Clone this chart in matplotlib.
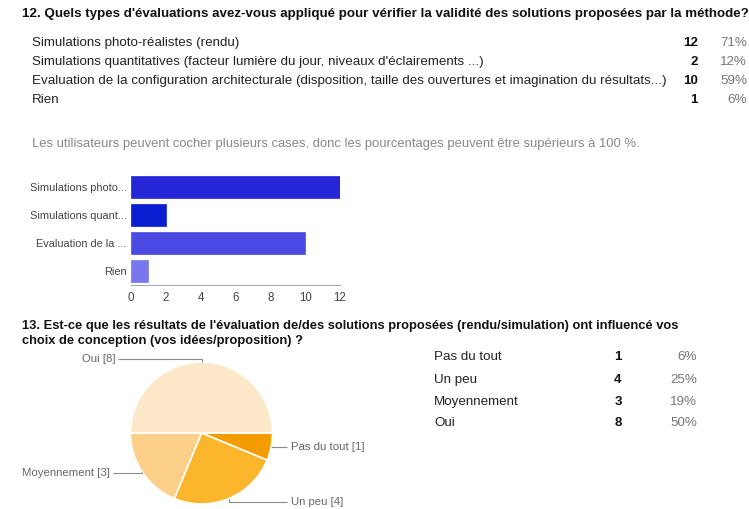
import matplotlib
matplotlib.use("Agg")
from matplotlib import pyplot as plt
import numpy as np

plt.rcParams['font.family'] = ['Liberation Sans', 'DejaVu Sans']

W, H = 749, 509

# question 12 : types d'evaluations
q12_title = ("12. Quels types d'évaluations avez-vous appliqué pour vérifier "
             "la validité des solutions proposées par la méthode?")
q12_options = ["Simulations photo-réalistes (rendu)",
               "Simulations quantitatives (facteur lumière du jour, niveaux d'éclairements ...)",
               "Evaluation de la configuration architecturale (disposition, taille des "
               "ouvertures et imagination du résultats...)",
               "Rien"]
q12_short = ["Simulations photo...", "Simulations quant...", "Evaluation de la ...", "Rien"]
q12_counts = [12, 2, 10, 1]
q12_pct = ["71%", "12%", "59%", "6%"]
q12_note = ("Les utilisateurs peuvent cocher plusieurs cases, donc les pourcentages "
            "peuvent être supérieurs à 100 %.")
bar_colors = ["#2626d9", "#0b1fd2", "#4b4be4", "#7878ec"]
x_ticks = [0, 2, 4, 6, 8, 10, 12]

# question 13 : influence sur la conception
q13_title = ["13. Est-ce que les résultats de l'évaluation de/des solutions proposées "
             "(rendu/simulation) ont influencé vos",
             "choix de conception (vos idées/proposition) ?"]
q13_labels = ["Pas du tout", "Un peu", "Moyennement", "Oui"]
q13_counts = [1, 4, 3, 8]
q13_pct = ["6%", "25%", "19%", "50%"]
pie_colors = ["#f59c00", "#fbb62c", "#fdd089", "#fde9ca"]

FS = 9.6      # body text
FS_AX = 7.9   # bar chart tick labels
FS_PIE = 8.2  # pie labels


def fx(x):
    return x / W


def fy(y):
    return 1 - y / H


fig = plt.figure(figsize=(W / 100, H / 100), dpi=100)
fig.patch.set_facecolor("white")

# overlay in pixel units for the pie and its leader lines
ov = fig.add_axes([0, 0, 1, 1])
ov.set_xlim(0, W)
ov.set_ylim(0, H)
ov.axis("off")

# ---- question 12 text block
fig.text(fx(22), fy(14), q12_title, fontsize=FS, fontweight="bold",
         color="#111111", va="center")
row_y = [43, 62, 81, 100]
for lab, c, p, y in zip(q12_options, q12_counts, q12_pct, row_y):
    fig.text(fx(32), fy(y), lab, fontsize=FS, color="#222222", va="center")
    fig.text(fx(698), fy(y), str(c), fontsize=FS, fontweight="bold",
             color="#111111", va="center", ha="right")
    fig.text(fx(747), fy(y), p, fontsize=FS, color="#777777", va="center", ha="right")
fig.text(fx(32), fy(144), q12_note, fontsize=9.4, color="#888888", va="center")

# ---- question 12 bar chart
ax = fig.add_axes([fx(131), fy(285), (340 - 131) / W, (285 - 173) / H])
pos = list(range(len(q12_counts)))
ax.barh(pos, q12_counts, height=0.77, color=bar_colors, edgecolor=bar_colors, lw=0.5)
ax.set_ylim(len(pos) - 0.5, -0.5)
ax.set_xlim(0, 12)
ax.set_xticks(x_ticks)
ax.set_yticks(pos)
ax.set_yticklabels(q12_short)
ax.tick_params(length=0, labelsize=FS_AX, labelcolor="#444444")
ax.tick_params(axis="x", pad=5, labelsize=8.3)
ax.tick_params(axis="y", pad=3)
for s in ["top", "right", "left"]:
    ax.spines[s].set_visible(False)
ax.spines["bottom"].set_color("#aaaaaa")
ax.set_facecolor("none")

# ---- question 13 text
fig.text(fx(22), fy(326), q13_title[0], fontsize=9.25, fontweight="bold",
         color="#111111", va="center")
fig.text(fx(22), fy(341), q13_title[1], fontsize=9.25, fontweight="bold",
         color="#111111", va="center")

tab_y = [357, 380, 402, 423]
for lab, c, p, y in zip(q13_labels, q13_counts, q13_pct, tab_y):
    fig.text(fx(434), fy(y), lab, fontsize=FS, color="#222222", va="center")
    fig.text(fx(618), fy(y), str(c), fontsize=FS, fontweight="bold",
             color="#111111", va="center", ha="center")
    fig.text(fx(697), fy(y), p, fontsize=FS, color="#777777", va="center", ha="right")

# ---- question 13 pie
cx, cy, r = 201.5, H - 433, 71
wedges, _ = ov.pie(q13_counts, colors=pie_colors, startangle=0, counterclock=False,
                   center=(cx, cy), radius=r,
                   wedgeprops=dict(edgecolor="white", linewidth=1.2))
ov.set_xlim(0, W)
ov.set_ylim(0, H)
ov.set_aspect("auto")

# leader lines: (label y, x where the line ends, label side)
leaders = {
    "Pas du tout": (447, 287, "right"),
    "Un peu": (502, 287, "right"),
    "Moyennement": (473, 113, "left"),
    "Oui": (359, 118, "left"),
}
for w, lab, c in zip(wedges, q13_labels, q13_counts):
    mid = np.deg2rad((w.theta1 + w.theta2) / 2)
    ax_x = cx + r * np.cos(mid)
    ax_y = cy + r * np.sin(mid)
    ly, lx, side = leaders[lab]
    ly = H - ly
    ov.plot([ax_x, ax_x, lx], [ax_y, ly, ly], color="#8a8a8a", lw=0.8,
            solid_capstyle="butt")
    if side == "right":
        ov.text(lx + 4, ly, f"{lab} [{c}]", fontsize=FS_PIE, color="#666666",
                va="center", ha="left")
    else:
        ov.text(lx - 3, ly, f"{lab} [{c}]", fontsize=FS_PIE, color="#666666",
                va="center", ha="right")

fig.savefig("out.png", dpi=100)
